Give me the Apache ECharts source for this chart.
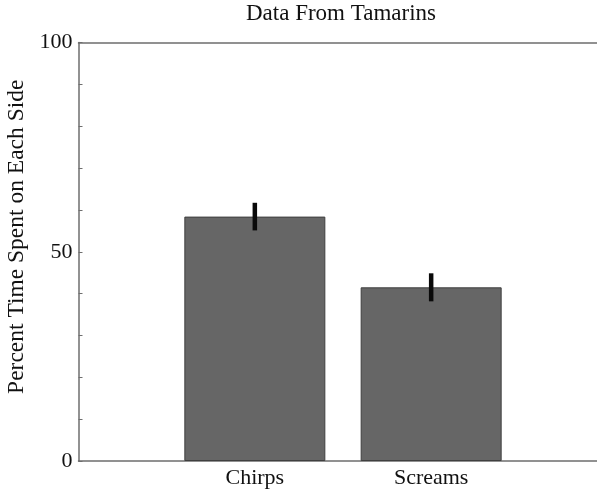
<!DOCTYPE html>
<html>
<head>
<meta charset="utf-8">
<script src="https://cdn.jsdelivr.net/npm/echarts@6/dist/echarts.min.js"></script>
<style>html,body{margin:0;padding:0;background:#fff}#c{width:597px;height:492px}</style>
</head>
<body>
<div id="c"></div>
<script>
var categories = ['Chirps', 'Screams'];
var meanValues = [58.4, 41.5];
var errorValues = [3.3, 3.35];
var yTickLabels = [0, 50, 100];

var font = '"Liberation Serif", "Times New Roman", serif';
var barData = meanValues.map(function (v, i) { return [i + 1, v]; });
var errData = meanValues.map(function (v, i) { return [i + 1, v - errorValues[i], v + errorValues[i]]; });

var chart = echarts.init(document.getElementById('c'), null, {renderer: 'canvas'});
chart.setOption({
  animation: false,
  backgroundColor: '#ffffff',
  title: {
    text: 'Data From Tamarins',
    left: 246, top: 2, padding: 0,
    textStyle: {fontFamily: font, fontSize: 23, fontWeight: 'normal', color: '#111'}
  },
  grid: {left: 78.5, width: 529, top: 42.5, bottom: 31, containLabel: false, outerBoundsMode: 'none'},
  xAxis: [{
    type: 'value', min: 0, max: 3, interval: 1,
    splitLine: {show: false},
    axisTick: {show: false},
    axisLine: {show: true, lineStyle: {color: '#6e6e6e', width: 1.5}},
    axisLabel: {
      margin: 6, fontFamily: font, fontSize: 22, color: '#111',
      formatter: function (v) { return categories[v - 1] || ''; }
    }
  }, {
    type: 'value', min: 0, max: 3, position: 'top',
    splitLine: {show: false}, axisTick: {show: false}, axisLabel: {show: false},
    axisLine: {show: true, lineStyle: {color: '#6e6e6e', width: 1.5}}
  }],
  yAxis: {
    type: 'value', min: 0, max: 100, interval: 10,
    name: 'Percent Time Spent on Each Side',
    nameLocation: 'middle', nameGap: 43,
    nameTextStyle: {fontFamily: font, fontSize: 23.5, color: '#111', padding: [0, 0, 0, 30]},
    splitLine: {show: false},
    axisLine: {show: true, lineStyle: {color: '#6e6e6e', width: 1.5}},
    axisTick: {show: true, inside: true, length: 4, lineStyle: {color: '#6e6e6e', width: 1}},
    axisLabel: {
      margin: 6, fontFamily: font, fontSize: 22, color: '#111',
      formatter: function (v) { return yTickLabels.indexOf(v) >= 0 ? String(v) : ''; }
    }
  },
  series: [{
    type: 'bar',
    data: barData,
    barWidth: 141,
    itemStyle: {color: '#666666', borderColor: '#3f3f3f', borderWidth: 1}
  }, {
    type: 'custom',
    data: errData,
    z: 10,
    renderItem: function (params, api) {
      var lo = api.coord([api.value(0), api.value(1)]);
      var hi = api.coord([api.value(0), api.value(2)]);
      return {
        type: 'line',
        shape: {x1: lo[0], y1: lo[1], x2: hi[0], y2: hi[1]},
        style: {stroke: '#0a0a0a', lineWidth: 4.5}
      };
    }
  }]
});
</script>
</body>
</html>
